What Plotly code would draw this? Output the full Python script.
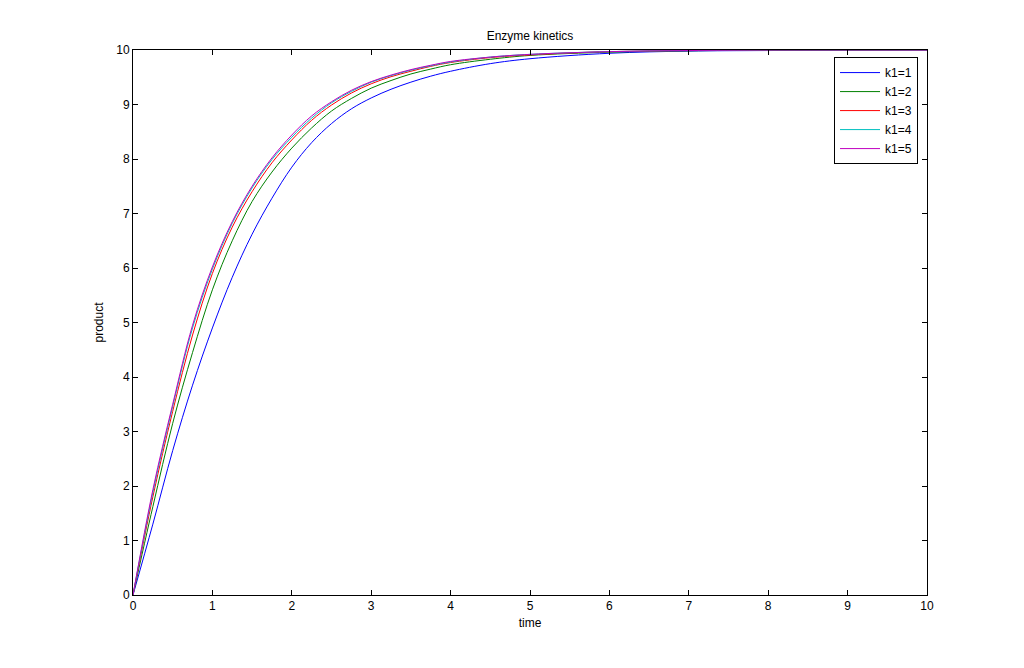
import plotly.graph_objects as go

# Values: product level at common time points
time = [0, 0.25, 0.5, 0.75, 1.0, 1.25, 1.5, 1.75, 2.0, 2.25, 2.5, 2.75, 3.0, 3.25, 3.5, 3.75, 4.0,
        4.5, 5.0, 6.0, 7.0, 8.0, 10.0]

names = ["k1=1", "k1=2", "k1=3", "k1=4", "k1=5"]
colors = ["#0000FF", "#008000", "#FF0000", "#00BFBF", "#BF00BF"]

p_k1 = [0, 1.30, 2.65, 3.85, 4.90, 5.83, 6.62, 7.28, 7.85, 8.30, 8.65, 8.92, 9.12, 9.28, 9.41, 9.52, 9.61,
        9.75, 9.84, 9.94, 9.98, 9.99, 10.0]
p_k2 = [0, 1.62, 3.15, 4.45, 5.60, 6.50, 7.22, 7.76, 8.20, 8.57, 8.88, 9.11, 9.30, 9.44, 9.56, 9.65, 9.73,
        9.83, 9.90, 9.96, 9.985, 9.995, 10.0]
p_k3 = [0, 1.80, 3.37, 4.77, 5.90, 6.75, 7.40, 7.93, 8.35, 8.71, 8.99, 9.21, 9.38, 9.51, 9.61, 9.70, 9.77,
        9.86, 9.91, 9.97, 9.99, 10.0, 10.0]
p_k4 = [0, 1.88, 3.46, 4.90, 5.98, 6.82, 7.47, 7.99, 8.40, 8.75, 9.03, 9.24, 9.41, 9.53, 9.63, 9.71, 9.78,
        9.87, 9.92, 9.97, 9.99, 10.0, 10.0]
p_k5 = [0, 1.93, 3.50, 4.95, 6.02, 6.85, 7.50, 8.02, 8.44, 8.79, 9.05, 9.26, 9.42, 9.54, 9.64, 9.72, 9.79,
        9.87, 9.92, 9.97, 9.99, 10.0, 10.0]

prods = [p_k1, p_k2, p_k3, p_k4, p_k5]

tick_vals = list(range(0, 11))

FONT = "Liberation Sans, Arial"

fig = go.Figure()
for name, col, p in zip(names, colors, prods):
    fig.add_trace(go.Scatter(x=time, y=p, mode="lines", name=name,
                             line=dict(color=col, width=1, shape="spline", smoothing=1.0)))

axis_common = dict(
    range=[0, 10], tickvals=tick_vals, ticks="inside", ticklen=5, tickcolor="black",
    showline=True, linecolor="black", linewidth=1, mirror="ticks",
    showgrid=False, zeroline=False, tickfont=dict(family=FONT, size=12, color="black"),
)

W, H = 1016, 660
fig.update_layout(
    width=W, height=H,
    margin=dict(l=125, r=97, t=42, b=73),
    paper_bgcolor="white", plot_bgcolor="white",
    title=dict(text="Enzyme kinetics", xref="paper", x=0.5, xanchor="center",
               y=1 - 28 / H, yanchor="middle",
               font=dict(family=FONT, size=12, color="black")),
    xaxis=dict(**axis_common, title=dict(text="time", standoff=6,
                                          font=dict(family=FONT, size=12, color="black"))),
    yaxis=dict(**axis_common, title=dict(text="product", standoff=10,
                                          font=dict(family=FONT, size=12, color="black"))),
    legend=dict(x=0.9887, y=0.987, xanchor="right", yanchor="top",
                bgcolor="white", bordercolor="black", borderwidth=1,
                font=dict(family=FONT, size=12, color="black"),
                tracegroupgap=0, itemwidth=40),
    showlegend=True,
)

fig.write_html("out.html")
